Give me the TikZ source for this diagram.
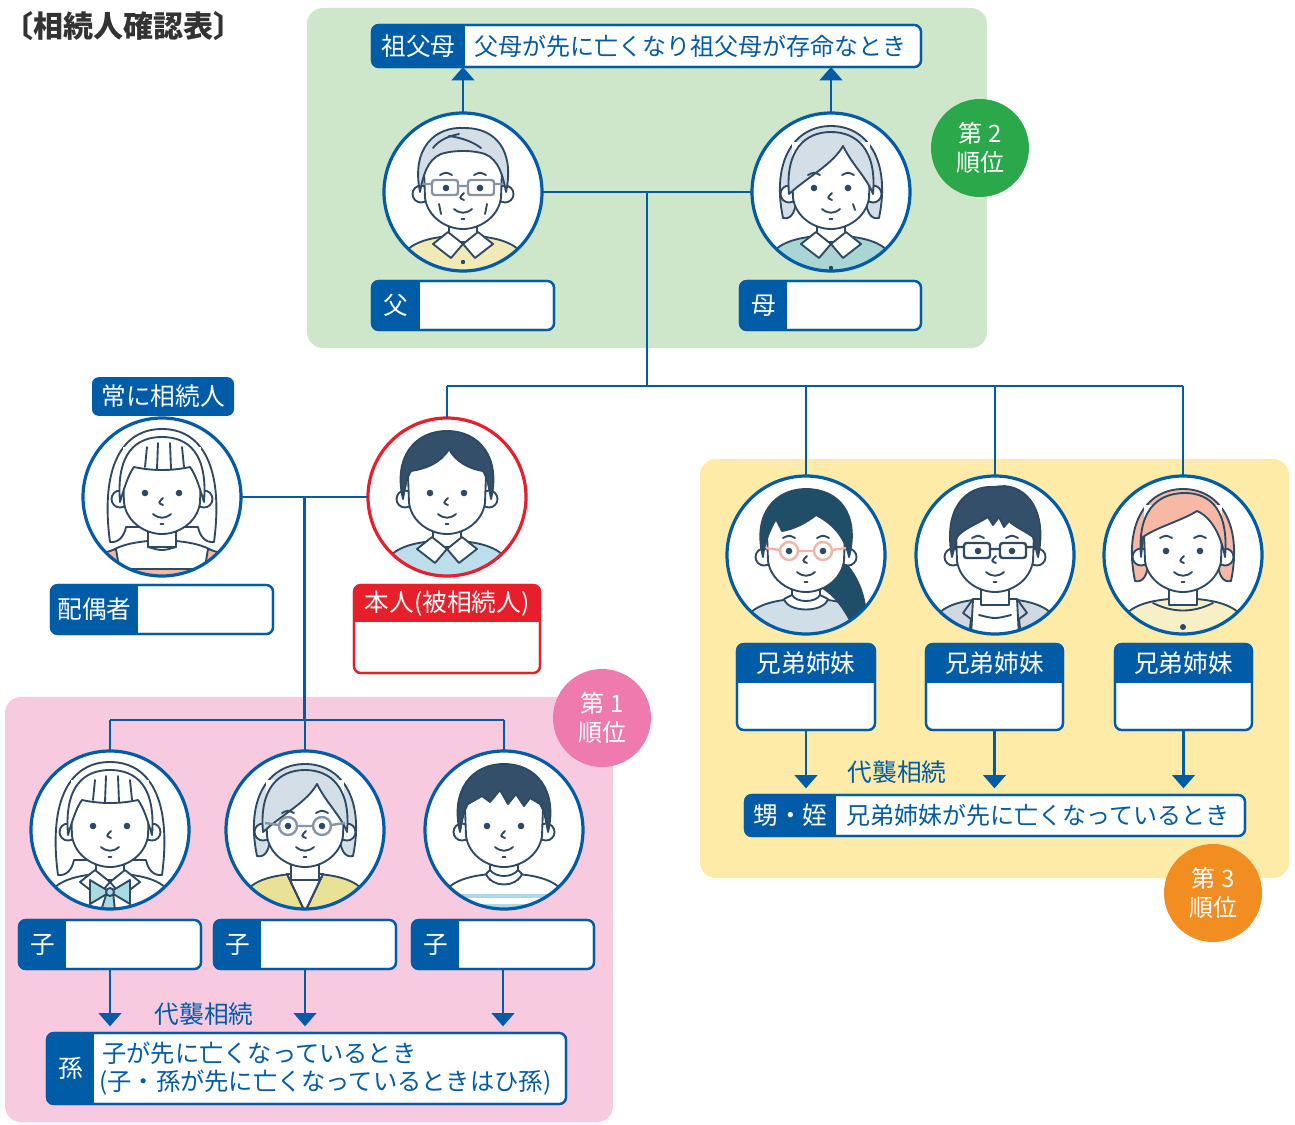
\documentclass[tikz,border=0pt]{standalone}
\usepackage{fontspec}
\setmainfont{Noto Sans CJK JP}
\usetikzlibrary{arrows.meta,calc}

\definecolor{mainblue}{HTML}{005CA6}
\definecolor{ink}{HTML}{2D4964}
\definecolor{titlegray}{HTML}{333333}
\definecolor{greenbg}{HTML}{CEE6CA}
\definecolor{pinkbg}{HTML}{F8CADF}
\definecolor{yellowbg}{HTML}{FEEBA8}
\definecolor{gbadge}{HTML}{2AA84A}
\definecolor{pbadge}{HTML}{EF7BAE}
\definecolor{obadge}{HTML}{F18D21}
\definecolor{redc}{HTML}{E61F2A}
\definecolor{hairgray}{HTML}{D3DEE6}
\definecolor{hairdark}{HTML}{344F69}
\definecolor{hairteal}{HTML}{1F4E68}
\definecolor{hairpink}{HTML}{F5B9A5}
\definecolor{shirtyellow}{HTML}{F2EAB6}
\definecolor{shirtteal}{HTML}{A9D5D5}
\definecolor{sweaterblue}{HTML}{BEDDEB}
\definecolor{sweatergray}{HTML}{CFDEE7}
\definecolor{jacketgray}{HTML}{D0D9E2}
\definecolor{shirtcream}{HTML}{F7F0C6}
\definecolor{apron}{HTML}{F4B8A2}
\definecolor{bowblue}{HTML}{A9DAE0}
\definecolor{vestyellow}{HTML}{E8E196}
\definecolor{stripeblue}{HTML}{ADD8E8}
\definecolor{glassgray}{HTML}{8793A6}
\definecolor{glasspink}{HTML}{F3B4A5}

\newcommand\labfont{\fontsize{18.5pt}{22pt}\selectfont}
\newcommand\notefont{\fontsize{18pt}{22pt}\selectfont}
\newcommand\smallfont{\fontsize{18.2pt}{22pt}\selectfont}
\newcommand\titlefont{\fontsize{22.5pt}{26pt}\selectfont\bfseries}
\newcommand\badgefont{\fontsize{18pt}{22pt}\selectfont}

\tikzset{
  conn/.style={draw=mainblue, line width=1.9pt},
  arr/.style={conn, -{Triangle[width=17pt,length=10pt]}},
  ring/.style={circle, minimum size=118.5pt, inner sep=0pt, outer sep=0pt, fill=white},
  ringline/.style={line width=2.4pt},
  stroke/.style={draw=ink, line width=1.4pt, line cap=round, line join=round},
  face/.style={stroke, fill=white},
  badge/.style={circle, minimum size=73.5pt, inner sep=0pt, text=white, align=center, font=\badgefont},
  region/.style={rounded corners=12pt},
}

% label + blank field, split vertically
\newcommand\fieldbox[8]{%
  \node[draw=#8, line width=1.6pt, fill=white, rounded corners=5pt, outer sep=0pt,
        minimum width={(#4-#2)*0.75pt}, minimum height={(#5-#3)*0.75pt},
        inner sep=0pt, anchor=north west] (#1) at (#2,#3) {};
  \begin{scope}
    \clip[rounded corners=5pt] (#1.north west) rectangle (#1.south east);
    \fill[#8] (#1.north west) rectangle (#6,#5);
  \end{scope}
  \draw[draw=#8, line width=1.6pt, rounded corners=5pt] (#1.north west) rectangle (#1.south east);
  \node[text=white, font=\labfont, inner sep=0pt] (#1-lab) at ({(#2+#6)/2},{(#3+#5)/2}) {#7};}

% header + blank field, split horizontally
\newcommand\headbox[8]{%
  \node[draw=#8, line width=1.6pt, fill=white, rounded corners=5pt, outer sep=0pt,
        minimum width={(#4-#2)*0.75pt}, minimum height={(#5-#3)*0.75pt},
        inner sep=0pt, anchor=north west] (#1) at (#2,#3) {};
  \begin{scope}
    \clip[rounded corners=5pt] (#1.north west) rectangle (#1.south east);
    \fill[#8] (#1.north west) rectangle (#4,#6);
  \end{scope}
  \draw[draw=#8, line width=1.6pt, rounded corners=5pt] (#1.north west) rectangle (#1.south east);
  \node[text=white, font=\labfont, inner sep=0pt] (#1-lab) at ({(#2+#4)/2},{(#3+#6)/2}) {#7};}

% portrait in a ring
\newcommand\avatar[4][mainblue]{%
  \node[ring] (#2) at (#3) {};
  \begin{scope}[shift={(#2.center)}]
    \clip (0,0) circle (78);
    #4
  \end{scope}
  \draw[ringline, draw=#1] (#2.center) circle (79);}

% common portrait pieces (local coordinates, y down)
\newcommand\shirt[1]{\filldraw[stroke, fill=#1] (-90,120) -- (-60,62) .. controls (-50,50) and (-34,46) .. (-14,44) -- (14,44) .. controls (34,46) and (50,50) .. (60,62) -- (90,120) -- cycle;}
\newcommand\neckpart{\filldraw[face] (-14,20) rectangle (14,50);}
\newcommand\collar{%
  \filldraw[face] (-15,40) -- (-30,52) -- (-12,66) -- (0,52) -- cycle;
  \filldraw[face] (15,40) -- (30,52) -- (12,66) -- (0,52) -- cycle;}
\newcommand\headshape{%
  \filldraw[face] (-42,2) circle (8.5);
  \filldraw[face] (42,2) circle (8.5);
  \fill[white] (-39,-50) -- (-38,6) .. controls (-35,26) and (-16,37) .. (0,37) .. controls (16,37) and (35,26) .. (38,6) -- (39,-50) -- cycle;
  \draw[stroke] (-39,-22) -- (-38,6) .. controls (-35,26) and (-16,37) .. (0,37) .. controls (16,37) and (35,26) .. (38,6) -- (39,-22);}
\newcommand\eyesnose{%
  \fill[ink] (-17,-4) circle (3.3) (17,-4) circle (3.3);
  \draw[stroke] (1,1) .. controls (-4,6) .. (1,8);
  \draw[stroke] (-9,17) .. controls (-3,22) and (3,22) .. (9,17);
  \draw[stroke] (-1.5,27) -- (1.5,27);}
\newcommand\brows{\draw[stroke] (-23,-17) .. controls (-17,-20) .. (-11,-17) (11,-17) .. controls (17,-20) .. (23,-17);}
\newcommand\rectglasses[1]{\draw[#1, line width=1.8pt, rounded corners=2pt] (-31,-12) rectangle (-5,3) (5,-12) rectangle (31,3) (-5,-6) -- (5,-6) (-31,-8) -- (-40,-8) (31,-8) -- (40,-8);}
\newcommand\roundglasses[1]{\draw[#1, line width=1.8pt] (-17,-4) circle (9) (17,-4) circle (9) (-8,-4) -- (8,-4) (-26,-5) -- (-40,-7) (26,-5) -- (40,-7);}
\newcommand\shorthair[1]{\filldraw[stroke, fill=#1] (-44,2) .. controls (-54,-40) and (-32,-66) .. (0,-66) .. controls (32,-66) and (54,-40) .. (44,2) .. controls (42,-10) and (40,-20) .. (36,-26) .. controls (22,-28) and (8,-36) .. (2,-48) .. controls (-6,-34) and (-22,-28) .. (-36,-26) .. controls (-40,-20) and (-42,-10) .. (-44,2) -- cycle;}
\newcommand\bobback[1]{\filldraw[stroke, fill=#1] (-48,26) .. controls (-60,-32) and (-36,-66) .. (0,-66) .. controls (36,-66) and (60,-32) .. (48,26) .. controls (40,28) and (36,20) .. (35,10) -- (-35,10) .. controls (-36,20) and (-40,28) .. (-48,26) -- cycle;}
\newcommand\bobfront[1]{\filldraw[stroke, fill=#1] (-42,2) .. controls (-46,-42) and (-26,-60) .. (0,-60) .. controls (26,-60) and (46,-42) .. (42,2) .. controls (36,-14) and (22,-26) .. (12,-46) .. controls (2,-28) and (-22,-16) .. (-42,2) -- cycle;}
\newcommand\longback{\filldraw[face] (-52,45) .. controls (-62,-30) and (-40,-68) .. (0,-68) .. controls (40,-68) and (62,-30) .. (52,45) .. controls (44,46) and (38,40) .. (36,30) -- (-36,30) .. controls (-38,40) and (-44,46) .. (-52,45) -- cycle;}
\newcommand\bangs{%
  \filldraw[face] (-42,5) .. controls (-46,-44) and (-26,-60) .. (0,-60) .. controls (26,-60) and (46,-44) .. (42,5) .. controls (38,-8) and (34,-22) .. (28,-30) .. controls (10,-26) and (-10,-26) .. (-28,-30) .. controls (-34,-22) and (-38,-8) .. (-42,5) -- cycle;
  \draw[stroke] (-15,-50) -- (-17,-30) (-4,-54) -- (-5,-28) (8,-54) -- (9,-28) (20,-50) -- (22,-30);}

% the individual portraits
\newcommand\drawfather{%
  \shirt{shirtyellow}\neckpart\collar
  \fill[ink] (0,70) circle (2.2) (0,84) circle (2.2);
  \headshape
  \filldraw[stroke, fill=hairgray] (-43,0) .. controls (-52,-44) and (-28,-66) .. (2,-64) .. controls (32,-64) and (52,-42) .. (43,0) .. controls (40,-16) and (36,-32) .. (22,-38) .. controls (10,-42) and (-10,-42) .. (-22,-38) .. controls (-36,-32) and (-40,-16) .. (-43,0) -- cycle;
  \draw[stroke] (-14,-56) .. controls (0,-54) and (10,-50) .. (18,-44);
  \draw[stroke] (-30,-44) .. controls (-24,-52) and (-14,-56) .. (-4,-58);
  \brows\eyesnose
  \rectglasses{glassgray}
  \draw[stroke] (-24,12) -- (-22,22) (24,12) -- (22,22);}
\newcommand\drawmother{%
  \bobback{hairgray}
  \shirt{shirtteal}\neckpart\collar
  \fill[ink] (0,76) circle (2.2);
  \headshape
  \bobfront{hairgray}
  \brows\eyesnose
  \draw[stroke] (22,12) -- (24,18);}
\newcommand\drawspouse{%
  \longback
  \shirt{white}\neckpart
  \filldraw[stroke, fill=apron] (-44,72) -- (44,72) -- (44,100) -- (-44,100) -- cycle;
  \filldraw[stroke, fill=apron] (-58,56) -- (-46,52) -- (-38,100) -- (-56,100) -- cycle;
  \filldraw[stroke, fill=apron] (58,56) -- (46,52) -- (38,100) -- (56,100) -- cycle;
  \draw[stroke] (-14,50) .. controls (0,54) .. (14,50);
  \headshape
  \bangs
  \eyesnose}
\newcommand\drawself{%
  \shirt{sweaterblue}\neckpart\collar
  \headshape
  \shorthair{hairdark}
  \eyesnose}
\newcommand\drawsibA{%
  \shirt{sweatergray}\neckpart
  \filldraw[face] (-22,44) .. controls (-18,58) and (18,58) .. (22,44) -- (14,40) .. controls (10,48) and (-10,48) .. (-14,40) -- cycle;
  \filldraw[stroke, fill=hairteal] (28,-2) .. controls (58,20) and (66,60) .. (56,92) .. controls (46,66) and (34,44) .. (18,34) -- cycle;
  \headshape
  \filldraw[stroke, fill=hairteal] (-43,2) .. controls (-54,-42) and (-30,-66) .. (0,-66) .. controls (32,-66) and (54,-42) .. (43,2) .. controls (40,-14) and (30,-30) .. (10,-40) .. controls (0,-32) and (-12,-26) .. (-24,-24) -- (-30,-36) .. controls (-38,-22) and (-42,-10) .. (-43,2) -- cycle;
  \brows\eyesnose
  \roundglasses{glasspink}}
\newcommand\drawsibB{%
  \shirt{jacketgray}
  \filldraw[face] (-22,44) -- (22,44) -- (26,120) -- (-26,120) -- cycle;
  \neckpart
  \draw[stroke] (-16,60) .. controls (0,64) .. (16,60);
  \draw[stroke] (-22,44) -- (-32,58) -- (-24,64) -- (-28,100) (22,44) -- (32,58) -- (24,64) -- (28,100);
  \headshape
  \filldraw[stroke, fill=hairdark] (-43,2) .. controls (-52,-46) and (-30,-70) .. (0,-68) .. controls (26,-74) and (54,-50) .. (43,2) -- (38,-18) .. controls (30,-24) and (20,-28) .. (14,-34) -- (9,-28) -- (4,-38) -- (-2,-30) -- (-7,-38) .. controls (-20,-30) and (-32,-26) .. (-38,-18) -- cycle;
  \brows\eyesnose
  \rectglasses{ink}}
\newcommand\drawsibC{%
  \bobback{hairpink}
  \shirt{shirtcream}\neckpart
  \draw[stroke] (-30,48) .. controls (-10,58) and (10,58) .. (30,48);
  \fill[ink] (0,72) circle (3);
  \headshape
  \filldraw[stroke, fill=hairpink] (-42,2) .. controls (-46,-44) and (-26,-62) .. (2,-62) .. controls (28,-62) and (46,-44) .. (42,2) .. controls (38,-20) and (28,-38) .. (14,-44) .. controls (-2,-34) and (-26,-28) .. (-40,-18) -- cycle;
  \brows\eyesnose}
\newcommand\drawkidA{%
  \longback
  \shirt{white}\neckpart\collar
  \filldraw[stroke, fill=bowblue] (-3,62) -- (-12,90) -- (-4,86) -- (0,92) -- (6,90) -- (3,62) -- cycle;
  \filldraw[stroke, fill=bowblue] (0,62) -- (-20,50) -- (-20,74) -- cycle;
  \filldraw[stroke, fill=bowblue] (0,62) -- (20,50) -- (20,74) -- cycle;
  \filldraw[stroke, fill=bowblue] (0,62) circle (4);
  \headshape
  \bangs
  \eyesnose}
\newcommand\drawkidB{%
  \bobback{hairgray}
  \shirt{vestyellow}
  \filldraw[face] (-18,44) -- (18,44) -- (0,82) -- cycle;
  \neckpart
  \draw[stroke] (-18,44) -- (0,82) -- (18,44);
  \headshape
  \bobfront{hairgray}
  \brows\eyesnose
  \roundglasses{glassgray}}
\newcommand\drawkidC{%
  \shirt{white}
  \draw[stripeblue, line width=2.6pt] (-80,66) -- (80,66) (-80,76) -- (80,76);
  \neckpart
  \filldraw[face] (-18,44) .. controls (-12,58) and (12,58) .. (18,44) -- (14,40) .. controls (8,48) and (-8,48) .. (-14,40) -- cycle;
  \headshape
  \filldraw[stroke, fill=hairdark] (-44,2) .. controls (-54,-40) and (-32,-66) .. (0,-66) .. controls (32,-66) and (54,-40) .. (44,2) .. controls (42,-10) and (40,-20) .. (36,-26) -- (26,-32) -- (20,-24) -- (12,-36) -- (4,-26) -- (-4,-40) -- (-14,-28) -- (-22,-34) -- (-36,-26) .. controls (-40,-20) and (-42,-10) .. (-44,2) -- cycle;
  \eyesnose}

\begin{document}
\begin{tikzpicture}[x=0.75pt, y=-0.75pt]
\useasboundingbox (0,0) rectangle (1295,1124);

% coloured areas of the three ranks
\fill[greenbg, region] (307,8) rectangle (987,348);
\fill[pinkbg, region] (5,697) rectangle (613,1122);
\fill[yellowbg, region] (700,459) rectangle (1289,878);

% heading
\node[anchor=west, text=titlegray, font=\titlefont, inner sep=0pt] (title) at (3,26) {〔相続人確認表〕};

% portraits
\avatar{fa}{463,192}{\drawfather}
\avatar{mo}{831,192}{\drawmother}
\avatar{sp}{162,497}{\drawspouse}
\avatar[redc]{me}{447,497}{\drawself}
\avatar{s1}{806,555}{\drawsibA}
\avatar{s2}{995,555}{\drawsibB}
\avatar{s3}{1183,555}{\drawsibC}
\avatar{k1}{110,830}{\drawkidA}
\avatar{k2}{305,830}{\drawkidB}
\avatar{k3}{504,830}{\drawkidC}

% name fields
\fieldbox{gpbox}{372}{25}{921}{67}{465}{祖父母}{mainblue}
\node[anchor=west, text=mainblue, font=\notefont, inner sep=0pt] (gp-txt) at (474,46) {父母が先に亡くなり祖父母が存命なとき};
\fieldbox{fabox}{372}{281}{554}{330}{420}{父}{mainblue}
\fieldbox{mobox}{740}{281}{921}{330}{787}{母}{mainblue}
\fieldbox{spbox}{51}{585}{273}{634}{138}{配偶者}{mainblue}
\headbox{mebox}{354}{585}{540}{673}{622}{本人(被相続人)}{redc}
\headbox{s1box}{737}{644}{875}{730}{683}{兄弟姉妹}{mainblue}
\headbox{s2box}{926}{644}{1063}{730}{683}{兄弟姉妹}{mainblue}
\headbox{s3box}{1115}{644}{1252}{730}{683}{兄弟姉妹}{mainblue}
\fieldbox{nnbox}{745}{795}{1245}{836}{836}{甥・姪}{mainblue}
\node[anchor=west, text=mainblue, font=\notefont, inner sep=0pt] (nn-txt) at (846,815.5) {兄弟姉妹が先に亡くなっているとき};
\fieldbox{k1box}{19}{920}{201}{969}{66}{子}{mainblue}
\fieldbox{k2box}{214}{920}{396}{969}{261}{子}{mainblue}
\fieldbox{k3box}{412}{920}{594}{969}{459}{子}{mainblue}
\fieldbox{gcbox}{47}{1033}{566}{1104}{94}{孫}{mainblue}
\node[anchor=west, text=mainblue, font=\smallfont, inner sep=0pt] (gc-t1) at (102,1053) {子が先に亡くなっているとき};
\node[anchor=west, text=mainblue, font=\smallfont, inner sep=0pt] (gc-t2) at (99,1083) {(子・孫が先に亡くなっているときはひ孫)};

\node[fill=mainblue, rounded corners=5pt, text=white, font=\labfont, minimum width=106.5pt, minimum height=29pt, inner sep=0pt] (always) at (163,396.5) {常に相続人};

% rank badges
\node[badge, fill=gbadge] (rank2) at (980,148) {第 2\\順位};
\node[badge, fill=pbadge] (rank1) at (602,718) {第 1\\順位};
\node[badge, fill=obadge] (rank3) at (1213,893) {第 3\\順位};

% family lines
\coordinate (topmid) at ($(fa.east)!0.5!(mo.west)$);
\coordinate (sibjoin) at (647,386);
\draw[conn] (fa.east) -- (mo.west);
\draw[conn] (topmid) -- (topmid |- sibjoin);
\draw[conn] (me.north |- sibjoin) -- (s3.north |- sibjoin);
\foreach \n in {me,s1,s2,s3} \draw[conn] (\n.north |- sibjoin) -- (\n.north);
\draw[arr] (fa.north) -- (fa.north |- gpbox.south);
\draw[arr] (mo.north) -- (mo.north |- gpbox.south);

\coordinate (couplemid) at ($(sp.east)!0.5!(me.west)$);
\coordinate (kidjoin) at (305,720);
\draw[conn] (sp.east) -- (me.west);
\draw[conn] (couplemid) -- (couplemid |- kidjoin);
\draw[conn] (k1.north |- kidjoin) -- (k3.north |- kidjoin);
\foreach \n in {k1,k2,k3} \draw[conn] (\n.north |- kidjoin) -- (\n.north);

% representation arrows
\foreach \n in {k1box,k2box,k3box} \draw[arr, shorten >=5pt] (\n.south) -- (\n.south |- gcbox.north);
\foreach \n in {s1box,s2box,s3box} \draw[arr, shorten >=5pt] (\n.south) -- (\n.south |- nnbox.north);
\node[text=mainblue, font=\labfont, inner sep=0pt] (dai1) at (204,1014) {代襲相続};
\node[text=mainblue, font=\labfont, inner sep=0pt] (dai2) at (897,772) {代襲相続};
\end{tikzpicture}
\end{document}
